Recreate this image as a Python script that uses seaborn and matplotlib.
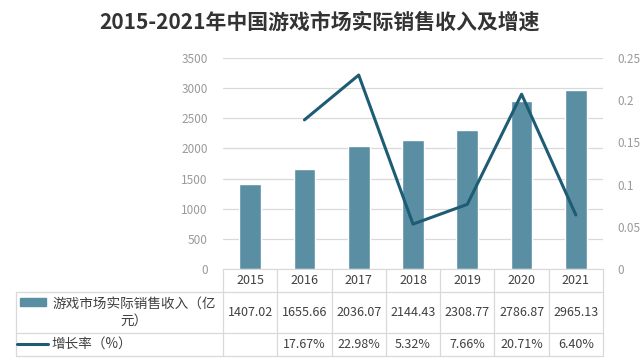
import matplotlib
matplotlib.use('Agg')
import matplotlib.pyplot as plt
import matplotlib.transforms as mtransforms
from matplotlib.lines import Line2D
from matplotlib.patches import Rectangle
import seaborn as sns

# data
years = ['2015', '2016', '2017', '2018', '2019', '2020', '2021']
revenue = [1407.02, 1655.66, 2036.07, 2144.43, 2308.77, 2786.87, 2965.13]
growth = [None, 0.1767, 0.2298, 0.0532, 0.0766, 0.2071, 0.0640]
growth_labels = ['', '17.67%', '22.98%', '5.32%', '7.66%', '20.71%', '6.40%']
left_ticks = [0, 500, 1000, 1500, 2000, 2500, 3000, 3500]
right_ticks = [0, 0.05, 0.1, 0.15, 0.2, 0.25]
right_tick_labels = ['0', '0.05', '0.1', '0.15', '0.2', '0.25']

bar_color = '#5a8ea3'
line_color = '#1d5c74'
grid_color = '#d9d9d9'
tick_color = '#9a9a9a'
text_color = '#404040'

W, H = 640, 363
def fx(px):
    return px / W
def fy(py):
    return 1 - py / H

sns.set_style('white')
plt.rcParams['font.family'] = ['Noto Sans CJK SC', 'DejaVu Sans']

fig = plt.figure(figsize=(6.4, 3.63), dpi=100)
ax = fig.add_axes([fx(223), fy(269), 380 / W, 211 / H])

sns.barplot(x=years, y=revenue, color=bar_color, saturation=1, width=0.4, ax=ax)
ax.set_ylim(0, 3500)
ax.set_yticks(left_ticks)
ax.yaxis.grid(True, color=grid_color, lw=0.9)
ax.set_axisbelow(True)
ax.tick_params(axis='x', labelbottom=False, length=0)
ax.tick_params(axis='y', length=0, pad=11, labelsize=8.5, labelcolor=tick_color)
ax.set_xlabel('')
ax.set_ylabel('')
for s in ['top', 'left', 'right']:
    ax.spines[s].set_visible(False)
ax.spines['bottom'].set_color(grid_color)

# growth line on secondary axis
ax2 = ax.twinx()
idx = [i for i, g in enumerate(growth) if g is not None]
sns.lineplot(x=idx, y=[growth[i] for i in idx], color=line_color, lw=2.2, ax=ax2)
ax2.set_ylim(0, 0.25)
ax2.set_yticks(right_ticks)
ax2.set_yticklabels(right_tick_labels)
ax2.tick_params(axis='y', length=0, pad=10, labelsize=8.5, labelcolor=tick_color)
ax2.set_ylabel('')
for s in ax2.spines.values():
    s.set_visible(False)
ax.set_xlim(-0.5, 6.5)

# title
fig.text(0.5, fy(22), '2015-2021年中国游戏市场实际销售收入及增速', ha='center', va='center',
         fontsize=15, fontweight='bold', color='#333333')

# data table under the chart
trans = mtransforms.blended_transform_factory(ax.transData, fig.transFigure)
lkw = dict(color=grid_color, lw=0.9)
for i in range(len(years) + 1):
    x = i - 0.5
    fig.add_artist(Line2D([x, x], [fy(269), fy(356)], transform=trans, **lkw))
for py in [292, 333, 356]:
    fig.add_artist(Line2D([fx(16), fx(602)], [fy(py), fy(py)], **lkw))
fig.add_artist(Line2D([fx(16), fx(16)], [fy(292), fy(356)], **lkw))

for i, y in enumerate(years):
    fig.text(i, fy(280), y, transform=trans, ha='center', va='center', fontsize=9, color=text_color)
    fig.text(i, fy(313), f'{revenue[i]:.2f}', transform=trans, ha='center', va='center',
             fontsize=9, color=text_color)
    fig.text(i, fy(345), growth_labels[i], transform=trans, ha='center', va='center',
             fontsize=9, color=text_color)

# row headers with legend keys
fig.add_artist(Rectangle((fx(20), fy(306)), fx(26), 8 / H, color=bar_color))
fig.text(fx(134), fy(312), '游戏市场实际销售收入（亿\n元）', ha='center', va='center',
         multialignment='center', fontsize=9.8, color=text_color, linespacing=1.3)
fig.add_artist(Line2D([fx(17), fx(48)], [fy(344), fy(344)], color=line_color, lw=2.2))
fig.text(fx(51), fy(344), '增长率（%）', ha='left', va='center', fontsize=9.8, color=text_color)

fig.savefig('out.png', dpi=100, facecolor='white')
